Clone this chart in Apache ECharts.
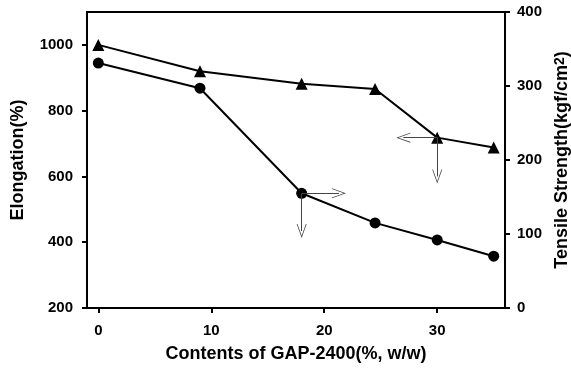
<!DOCTYPE html>
<html>
<head>
<meta charset="utf-8">
<script src="https://cdn.jsdelivr.net/npm/echarts@6/dist/echarts.min.js"></script>
<style>
  html, body { margin: 0; padding: 0; background: #fff; }
  #chart { width: 571px; height: 375px; }
</style>
</head>
<body>
<div id="chart"></div>
<script>
// GAP-2400 content (%, w/w)
var contents = [0, 9, 18, 24.5, 30, 35];
// elongation (%), left axis - triangles
var elongation = [1000, 920, 882, 866, 718, 688];
// tensile strength (kgf/cm2), right axis - circles
var tensile = [331, 297, 155, 115, 92, 70];
var xTicks = [0, 10, 20, 30];
var leftTicks = [200, 400, 600, 800, 1000];
var rightTicks = [0, 100, 200, 300, 400];

function pairs(xs, ys) {
  var out = [];
  for (var i = 0; i < xs.length; i++) out.push([xs[i], ys[i]]);
  return out;
}

var chart = echarts.init(document.getElementById("chart"));
var font = "Liberation Sans, Arial, sans-serif";
// open "V" arrow head
var vHead = "path://M0,14 L5,0 L10,14 L9.2,14 L5,2.2 L0.8,14 Z";
var arrowLine = { color: "#444", width: 1, type: "solid" };
var tickFont = { fontFamily: font, fontWeight: "bold", fontSize: 15, color: "#000" };
var nameFont = { fontFamily: font, fontWeight: "bold", fontSize: 18, color: "#000" };
var plain = function (v) { return String(v); };

const option = {
  animation: false,
  textStyle: { fontFamily: font },
  grid: {
    left: 87,
    right: 66,
    top: 12,
    bottom: 67,
    outerBoundsMode: "none",
    show: true,
    borderColor: "#000",
    borderWidth: 2,
    backgroundColor: "transparent"
  },
  xAxis: {
    type: "value",
    min: -1,
    max: 36,
    name: "Contents of GAP-2400(%, w/w)",
    nameLocation: "middle",
    nameGap: 37,
    nameTextStyle: nameFont,
    splitLine: { show: false },
    axisLine: { onZero: false, lineStyle: { color: "#000", width: 2 } },
    axisTick: { customValues: xTicks, length: 5, lineStyle: { color: "#000", width: 2 } },
    axisLabel: Object.assign({ customValues: xTicks, margin: 15, formatter: plain }, tickFont)
  },
  yAxis: [
    {
      type: "value",
      min: 200,
      max: 1100,
      position: "left",
      name: "Elongation(%)",
      nameLocation: "middle",
      nameGap: 60,
      nameTextStyle: nameFont,
      splitLine: { show: false },
      axisLine: { show: true, onZero: false, lineStyle: { color: "#000", width: 2 } },
      axisTick: { customValues: leftTicks, length: 5, lineStyle: { color: "#000", width: 2 } },
      axisLabel: Object.assign({ customValues: leftTicks, margin: 14, formatter: plain }, tickFont)
    },
    {
      type: "value",
      min: 0,
      max: 400,
      position: "right",
      name: "{b|Tensile Strength(kgf/cm}{sup|2}{b|)}",
      nameLocation: "middle",
      nameGap: 40,
      nameRotate: 90,
      nameTextStyle: {
        fontFamily: font, fontWeight: "bold", fontSize: 18, color: "#000",
        rich: {
          b: { fontFamily: font, fontWeight: "bold", fontSize: 18, color: "#000", lineHeight: 18, verticalAlign: "bottom" },
          sup: { fontFamily: font, fontWeight: "bold", fontSize: 14, color: "#000", lineHeight: 14, verticalAlign: "top", padding: [0, 0, 16, 0] }
        }
      },
      splitLine: { show: false },
      axisLine: { show: true, onZero: false, lineStyle: { color: "#000", width: 2 } },
      axisTick: { customValues: rightTicks, length: 5, lineStyle: { color: "#000", width: 2 } },
      axisLabel: Object.assign({ customValues: rightTicks, margin: 12, formatter: plain }, tickFont)
    }
  ],
  series: [
    {
      name: "Elongation",
      type: "line",
      yAxisIndex: 0,
      data: pairs(contents, elongation),
      symbol: "triangle",
      symbolSize: 12,
      itemStyle: { color: "#000" },
      lineStyle: { color: "#000", width: 2 },
      markLine: {
        silent: true,
        symbol: ["none", vHead],
        symbolSize: [10, 14],
        lineStyle: arrowLine,
        label: { show: false },
        data: [
          [{ coord: [contents[4], elongation[4]] }, { coord: [27, elongation[4]] }],
          [{ coord: [contents[4], elongation[4]] }, { coord: [contents[4], 600] }]
        ]
      }
    },
    {
      name: "Tensile Strength",
      type: "line",
      yAxisIndex: 1,
      data: pairs(contents, tensile),
      symbol: "circle",
      symbolSize: 11,
      itemStyle: { color: "#000" },
      lineStyle: { color: "#000", width: 2 },
      markLine: {
        silent: true,
        symbol: ["none", vHead],
        symbolSize: [10, 14],
        lineStyle: arrowLine,
        label: { show: false },
        data: [
          [{ coord: [contents[2], tensile[2]] }, { coord: [21.3, tensile[2]] }],
          [{ coord: [contents[2], tensile[2]] }, { coord: [contents[2], 104] }]
        ]
      }
    }
  ]
};

chart.setOption(option);
</script>
</body>
</html>
